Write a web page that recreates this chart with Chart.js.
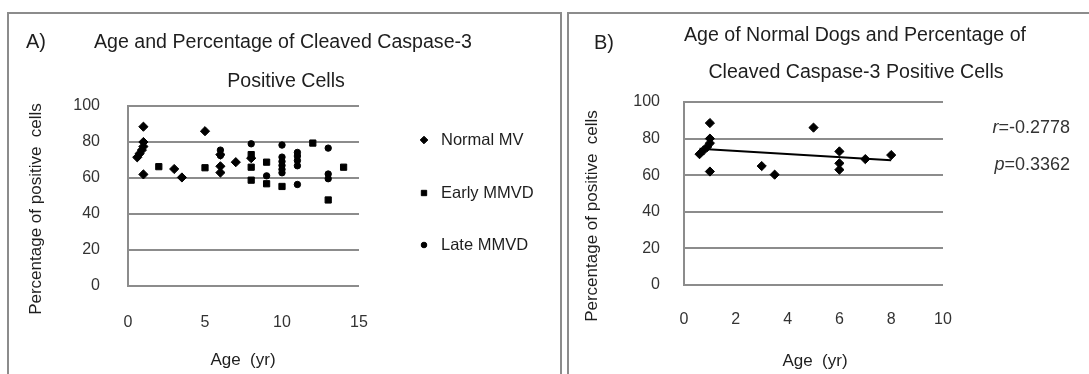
<!DOCTYPE html>
<html>
<head>
<meta charset="utf-8">
<script src="https://cdn.jsdelivr.net/npm/chart.js@4.4.1/dist/chart.umd.min.js"></script>
<style>
  html, body { margin: 0; padding: 0; background: #fff; }
  body { width: 1089px; height: 374px; position: relative; overflow: hidden; }
  .frame { position: absolute; top: 12px; height: 420px; border: 2px solid #8c8c8c; box-sizing: border-box; }
  #frameA { left: 7px; width: 555px; }
  #frameB { left: 567px; width: 560px; }
  canvas { position: absolute; top: 0; }
  #chA { left: 0; }
  #chB { left: 564px; }
</style>
</head>
<body>
<div class="frame" id="frameA"></div>
<div class="frame" id="frameB"></div>
<canvas id="chA" width="564" height="374"></canvas>
<canvas id="chB" width="525" height="374"></canvas>
<script>
(function () {
  "use strict";

  // normal dogs (used in both panels)
  var normalAge = [0.6, 0.75, 0.9, 1, 1, 1, 1, 3, 3.5, 5, 6, 6, 6, 7, 8];
  var normalPct = [71.5, 73.5, 75.5, 77.5, 80, 88.5, 62, 65, 60.3, 86, 73, 66.5, 63, 68.8, 71];

  var earlyAge = [2, 5, 8, 8, 8, 9, 9, 10, 12, 13, 14];
  var earlyPct = [66.3, 65.7, 73, 66, 58.8, 68.8, 56.8, 55.3, 79.4, 47.8, 66];

  var lateAge = [6, 6, 8, 9, 10, 10, 10, 10, 10, 10, 11, 11, 11, 11, 11, 13, 13, 13];
  var latePct = [75.5, 72.5, 79, 61.2, 78.3, 71.6, 69.2, 67, 64.8, 62.9, 74.2, 72.2, 69.7, 66.8, 56.4, 76.6, 62.2, 59.6];

  var groupNames = ["Normal MV", "Early MMVD", "Late MMVD"];
  var stats = ["-0.2778", "0.3362"];

  var FONT = "'Liberation Sans', Arial, sans-serif";
  var GRID = "#8c8c8c";
  var INK = "#1e1e1e";
  var TICK = "#333";

  function pts(xs, ys) {
    return xs.map(function (x, i) { return { x: x, y: ys[i] }; });
  }

  function trend(xs, ys) {
    var n = xs.length, mx = 0, my = 0, sxy = 0, sxx = 0;
    xs.forEach(function (x, i) { mx += x / n; my += ys[i] / n; });
    xs.forEach(function (x, i) { sxy += (x - mx) * (ys[i] - my); sxx += (x - mx) * (x - mx); });
    var b = sxy / sxx, a = my - b * mx;
    var lo = Math.min.apply(null, xs), hi = Math.max.apply(null, xs);
    return [{ x: lo, y: a + b * lo }, { x: hi, y: a + b * hi }];
  }

  function marker(style, r) {
    return { pointStyle: style, pointRadius: r, pointHoverRadius: r, backgroundColor: "#000", borderColor: "#000", borderWidth: 1, showLine: false };
  }

  function scales(xmax, xstep, xpad, ypad) {
    return {
      x: {
        type: "linear", min: 0, max: xmax,
        ticks: { stepSize: xstep, padding: xpad, color: TICK, font: { family: FONT, size: 16 } },
        grid: { display: false, drawTicks: false },
        border: { display: false },
        afterFit: function (s) { s.height = 60; }
      },
      y: {
        min: 0, max: 100,
        ticks: { stepSize: 20, padding: ypad, color: TICK, font: { family: FONT, size: 16 } },
        grid: { color: GRID, lineWidth: 2, drawTicks: false },
        border: { display: true, color: GRID, width: 2 },
        afterFit: function (s) { s.width = 60; }
      }
    };
  }

  // free text: panel letter, titles, axis titles, notes
  function textPlugin(items, legend) {
    return {
      id: "texts",
      afterDraw: function (chart) {
        var ctx = chart.ctx;
        ctx.save();
        items.forEach(function (t) {
          ctx.save();
          ctx.fillStyle = t.color || INK;
          ctx.font = t.size + "px " + FONT;
          ctx.textAlign = t.align || "center";
          ctx.textBaseline = "middle";
          ctx.translate(t.x, t.y);
          if (t.rot) ctx.rotate(t.rot);
          ctx.fillText(t.text, 0, 0);
          if (t.lead) {
            // italic symbol in front of a right-aligned value
            var w = ctx.measureText(t.text).width;
            ctx.font = "italic " + t.size + "px " + FONT;
            ctx.textAlign = "right";
            ctx.fillText(t.lead, -w, 0);
          }
          ctx.restore();
        });
        (legend || []).forEach(function (l) {
          ctx.fillStyle = "#000";
          ctx.strokeStyle = "#000";
          Chart.helpers.drawPoint(ctx, { pointStyle: l.style, radius: l.r, borderWidth: 1, rotation: 0 }, l.x, l.y);
          ctx.fillStyle = INK;
          ctx.font = "16.5px " + FONT;
          ctx.textAlign = "left";
          ctx.textBaseline = "middle";
          ctx.fillText(l.text, l.x + 17, l.y);
        });
        ctx.restore();
      }
    };
  }

  var base = { responsive: false, animation: false, devicePixelRatio: 1, events: [] };
  var noPlugins = { legend: { display: false }, tooltip: { enabled: false }, title: { display: false } };

  new Chart(document.getElementById("chA"), {
    type: "scatter",
    data: {
      datasets: [
        Object.assign({ label: groupNames[0], data: pts(normalAge, normalPct) }, marker("rectRot", 4.6)),
        Object.assign({ label: groupNames[1], data: pts(earlyAge, earlyPct) }, marker("rect", 4.4)),
        Object.assign({ label: groupNames[2], data: pts(lateAge, latePct) }, marker("circle", 3.2))
      ]
    },
    options: Object.assign({}, base, {
      layout: { padding: { left: 68, right: 205, top: 106, bottom: 28 } },
      plugins: noPlugins,
      scales: scales(15, 5, 27, 28)
    }),
    plugins: [textPlugin([
      { text: "A)", x: 26, y: 42, size: 20, align: "left" },
      { text: "Age and Percentage of Cleaved Caspase-3", x: 283, y: 43, size: 19.6 },
      { text: "Positive Cells", x: 286, y: 82, size: 19.6 },
      { text: "Percentage of positive  cells", x: 36, y: 209, size: 17, rot: -Math.PI / 2 },
      { text: "Age  (yr)", x: 243, y: 360, size: 17 }
    ], [
      { text: groupNames[0], style: "rectRot", r: 3.8, x: 424, y: 140 },
      { text: groupNames[1], style: "rect", r: 3.8, x: 424, y: 193 },
      { text: groupNames[2], style: "circle", r: 2.8, x: 424, y: 245 }
    ])]
  });

  new Chart(document.getElementById("chB"), {
    type: "scatter",
    data: {
      datasets: [
        Object.assign({ label: groupNames[0], data: pts(normalAge, normalPct) }, marker("rectRot", 4.6)),
        { type: "line", label: "trend", data: trend(normalAge, normalPct), borderColor: "#000", borderWidth: 2, pointRadius: 0, fill: false }
      ]
    },
    options: Object.assign({}, base, {
      layout: { padding: { left: 60, right: 146, top: 102, bottom: 29 } },
      plugins: noPlugins,
      scales: scales(10, 2, 25, 24)
    }),
    plugins: [textPlugin([
      { text: "B)", x: 30, y: 43, size: 20, align: "left" },
      { text: "Age of Normal Dogs and Percentage of", x: 291, y: 36, size: 19.6 },
      { text: "Cleaved Caspase-3 Positive Cells", x: 292, y: 73, size: 19.6 },
      { text: "Percentage of positive  cells", x: 28, y: 216, size: 17, rot: -Math.PI / 2 },
      { text: "Age  (yr)", x: 251, y: 361, size: 17 },
      { text: "=" + stats[0], lead: "r", x: 506, y: 128, size: 18, align: "right", color: "#333" },
      { text: "=" + stats[1], lead: "p", x: 506, y: 165, size: 18, align: "right", color: "#333" }
    ])]
  });
})();
</script>
</body>
</html>
